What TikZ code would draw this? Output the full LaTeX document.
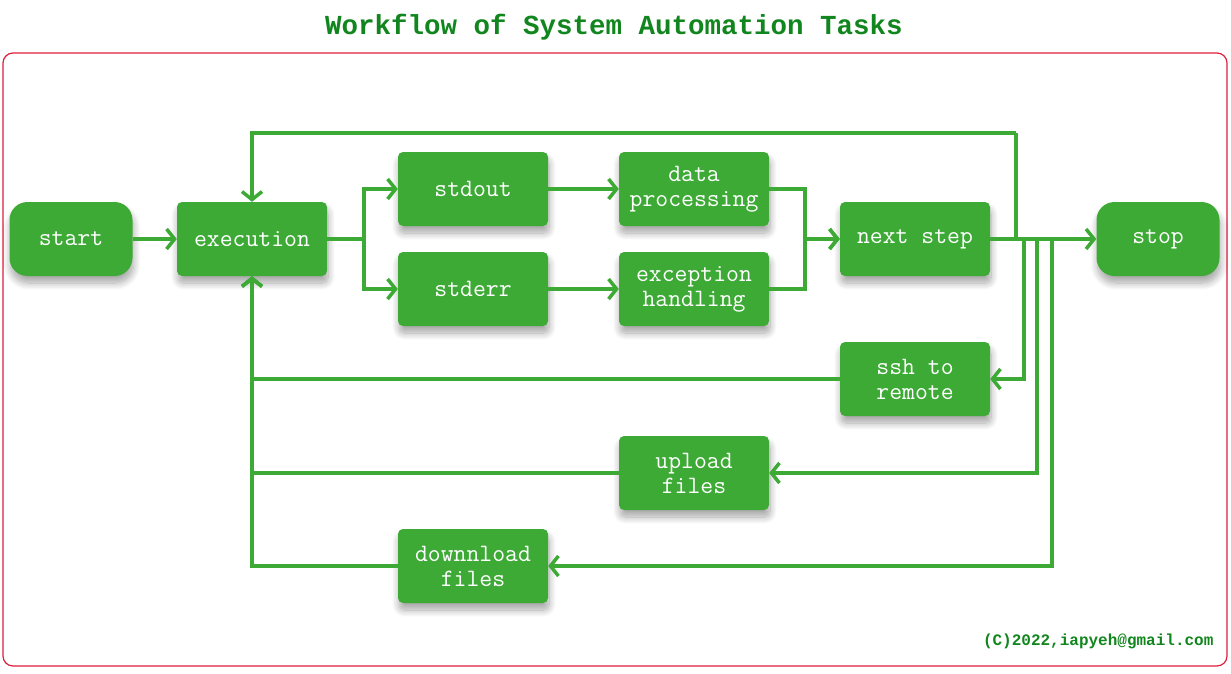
\documentclass[tikz,border=0pt]{standalone}
\usepackage{fontspec}
\newfontfamily\headfont{Liberation Mono}
\usetikzlibrary{arrows.meta, shadows.blur}

\definecolor{boxgreen}{RGB}{61,170,53}
\definecolor{titlegreen}{RGB}{18,134,30}
\definecolor{framered}{RGB}{220,30,60}

\tikzset{
  task/.style={rectangle, rounded corners=5pt, fill=boxgreen, text=white,
    minimum width=150pt, minimum height=74pt, align=center,
    font=\ttfamily\fontsize{25}{25}\selectfont,
    blur shadow={shadow xshift=1pt, shadow yshift=-7pt, shadow opacity=35,
      shadow blur radius=7pt, shadow blur steps=10}},
  terminal/.style={task, minimum width=123pt, rounded corners=18pt},
  flow/.style={draw=boxgreen, line width=3.5pt, -{Straight Barb[length=8pt,width=20pt]}},
  link/.style={draw=boxgreen, line width=3.5pt}
}

\begin{document}
\begin{tikzpicture}[x=1pt, y=-1pt]
\useasboundingbox (0,0) rectangle (1231,674);
\node (title) [font=\headfont\bfseries\fontsize{27.5}{30}\selectfont, text=titlegreen] at (614,27) {Workflow of System Automation Tasks};
\draw [framered, line width=1.2pt, rounded corners=10pt] (3,53) rectangle (1227,666);

\node (start) [terminal] at (71,239) {start};
\node (exec) [task] at (252,239) {execution};
\node (stdout) [task] at (473,189) {stdout};
\node (stderr) [task] at (473,289) {stderr};
\node (data) [task] at (694,189) {data\\processing};
\node (except) [task] at (694,289) {exception\\handling};
\node (next) [task] at (915,239) {next step};
\node (stop) [terminal] at (1158,239) {stop};
\node (ssh) [task] at (915,379) {ssh to\\remote};
\node (upload) [task] at (694,473) {upload\\files};
\node (download) [task] at (473,566) {downnload\\files};
\node (credit) [anchor=east, font=\headfont\bfseries\fontsize{16}{18}\selectfont, text=titlegreen] at (1217,641) {(C)2022,iapyeh@gmail.com};

\coordinate (loop) at (1016,133);

\draw [flow] (start) -- (exec);
\draw [flow] (exec.east) -- ++(37,0) |- (stdout);
\draw [flow] (exec.east) -- ++(37,0) |- (stderr);
\draw [flow] (stdout) -- (data);
\draw [flow] (stderr) -- (except);
\draw [flow] (data.east) -- ++(36,0) |- (next);
\draw [flow] (except.east) -- ++(36,0) |- (next);
\draw [flow] (next) -- (stop);
\draw [link] (next.east) -| (loop);
\draw [flow] (loop) -| (exec.north);
\draw [flow] (next.east) -- ++(34,0) |- (ssh);
\draw [flow] (next.east) -- ++(47,0) |- (upload);
\draw [flow] (next.east) -- ++(62,0) |- (download);
\draw [flow] (ssh) -| (exec.south);
\draw [flow] (upload) -| (exec.south);
\draw [flow] (download) -| (exec.south);
\end{tikzpicture}
\end{document}
